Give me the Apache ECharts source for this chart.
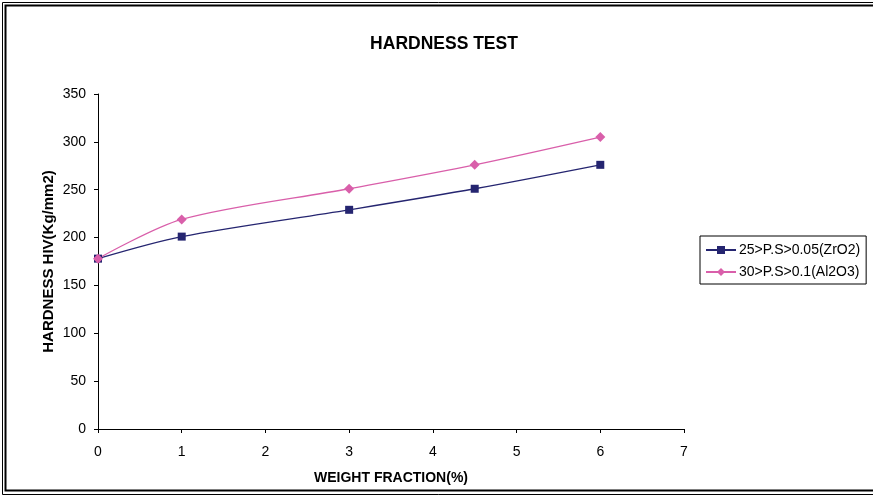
<!DOCTYPE html>
<html>
<head>
<meta charset="utf-8">
<script src="https://cdn.jsdelivr.net/npm/echarts@6/dist/echarts.min.js"></script>
<style>
html,body{margin:0;padding:0;background:#fff;}
#chart{width:873px;height:496px;}
</style>
</head>
<body>
<div id="chart"></div>
<script>
var xValues = [0, 1, 3, 4.5, 6];
var zro2Values = [178, 201, 229, 251, 276];
var al2o3Values = [178, 219, 251, 276, 305];
var seriesNames = ['25>P.S>0.05(ZrO2)', '30>P.S>0.1(Al2O3)'];
var xTicks = [0, 1, 2, 3, 4, 5, 6, 7];
var yTicks = [0, 50, 100, 150, 200, 250, 300, 350];

function pairs(xs, ys) { return xs.map(function (x, i) { return [x, ys[i]]; }); }

var chart = echarts.init(document.getElementById('chart'), null, {renderer: 'canvas'});
var font = 'Liberation Sans, Arial, sans-serif';
chart.setOption({
  animation: false,
  backgroundColor: '#fff',
  textStyle: {fontFamily: font},
  title: {
    text: 'HARDNESS TEST',
    left: 439, top: 30, textAlign: 'center',
    textStyle: {fontFamily: font, fontSize: 17.5, fontWeight: 'bold', color: '#000'}
  },
  grid: {left: 98, right: 189, top: 94, bottom: 67},
  xAxis: {
    type: 'value', min: xTicks[0], max: xTicks[xTicks.length - 1], interval: 1,
    name: 'WEIGHT FRACTION(%)', nameLocation: 'middle', nameGap: 42,
    nameMoveOverlap: false,
    nameTextStyle: {fontFamily: font, fontSize: 14, fontWeight: 'bold', color: '#000'},
    axisLine: {lineStyle: {color: '#000', width: 1}},
    axisTick: {show: true, length: 4, lineStyle: {color: '#000'}},
    axisLabel: {margin: 16, fontSize: 14, color: '#000', fontFamily: font},
    splitLine: {show: false}
  },
  yAxis: {
    type: 'value', min: yTicks[0], max: yTicks[yTicks.length - 1], interval: 50,
    name: 'HARDNESS HIV(Kg/mm2)', nameLocation: 'middle', nameGap: 42,
    nameMoveOverlap: false,
    nameTextStyle: {fontFamily: font, fontSize: 15, fontWeight: 'bold', color: '#000'},
    axisLine: {show: true, lineStyle: {color: '#000', width: 1}},
    axisTick: {show: true, length: 4, lineStyle: {color: '#000'}},
    axisLabel: {margin: 12, fontSize: 14, color: '#000', fontFamily: font},
    splitLine: {show: false}
  },
  legend: {
    orient: 'vertical', left: 700, top: 236,
    padding: [7, 6, 5, 5],
    itemGap: 8,
    itemWidth: 30, itemHeight: 10,
    borderColor: '#000', borderWidth: 1,
    textStyle: {fontFamily: font, fontSize: 14, color: '#000', padding: [0, 0, 0, -2]},
    data: seriesNames
  },
  series: [
    {
      name: seriesNames[0], type: 'line', smooth: 0.3,
      data: pairs(xValues, zro2Values),
      symbol: 'rect', symbolSize: 8,
      lineStyle: {color: '#252570', width: 1.3},
      itemStyle: {color: '#252570'}
    },
    {
      name: seriesNames[1], type: 'line', smooth: 0.3,
      data: pairs(xValues, al2o3Values),
      symbol: 'diamond', symbolSize: 10,
      lineStyle: {color: '#D95FAA', width: 1.3},
      itemStyle: {color: '#D95FAA'}
    }
  ],
  graphic: [
    {type: 'rect', shape: {x: 2.5, y: 2.5, width: 900, height: 492}, style: {fill: null, stroke: '#000', lineWidth: 1}, silent: true},
    {type: 'rect', shape: {x: 5.5, y: 5.5, width: 900, height: 485}, style: {fill: null, stroke: '#000', lineWidth: 2}, silent: true}
  ]
});
</script>
</body>
</html>
